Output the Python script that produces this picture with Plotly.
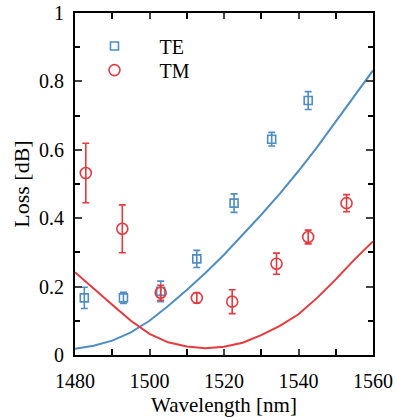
import plotly.graph_objects as go

# Measured data
wl_te = [1482.5, 1493.0, 1503.0, 1512.7, 1522.7, 1532.8, 1542.6]
loss_te = [0.167, 0.167, 0.186, 0.281, 0.444, 0.631, 0.744]
err_te = [0.031, 0.016, 0.030, 0.025, 0.027, 0.020, 0.026]

wl_tm = [1482.9, 1492.7, 1503.0, 1512.7, 1522.2, 1534.1, 1542.6, 1552.9]
loss_tm = [0.532, 0.369, 0.182, 0.167, 0.156, 0.267, 0.345, 0.444]
err_tm = [0.087, 0.070, 0.022, 0.015, 0.035, 0.031, 0.020, 0.025]

# Simulated curves
wl_fit = [1480, 1485, 1490, 1495, 1500, 1505, 1510, 1515, 1520, 1525, 1530,
          1535, 1540, 1545, 1550, 1555, 1560]
te_fit = [0.018, 0.027, 0.042, 0.066, 0.100, 0.143, 0.190, 0.240, 0.293,
          0.350, 0.410, 0.472, 0.538, 0.608, 0.682, 0.757, 0.832]
tm_fit = [0.242, 0.193, 0.147, 0.100, 0.062, 0.037, 0.025, 0.020, 0.024,
          0.036, 0.058, 0.085, 0.119, 0.167, 0.221, 0.279, 0.332]

x_tickvals = [1480, 1500, 1520, 1540, 1560]
y_tickvals = [0, 0.2, 0.4, 0.6, 0.8, 1]
y_ticktext = ["0", "0.2", "0.4", "0.6", "0.8", "1"]

blue = "#4f8dc3"
red = "#e8393e"
font = "Liberation Serif"
pad = "\u00a0" * 2

fig = go.Figure()
fig.add_trace(go.Scatter(x=wl_fit, y=te_fit, mode="lines", line=dict(color=blue, width=2),
                         showlegend=False, hoverinfo="skip"))
fig.add_trace(go.Scatter(x=wl_fit, y=tm_fit, mode="lines", line=dict(color=red, width=2),
                         showlegend=False, hoverinfo="skip"))
fig.add_trace(go.Scatter(x=wl_te, y=loss_te, mode="markers", name=pad + "TE", legend="legend",
                         marker=dict(symbol="square-open", size=8, color=blue, line=dict(width=1.6, color=blue)),
                         error_y=dict(type="data", array=err_te, color=blue, thickness=1.6, width=3.5)))
fig.add_trace(go.Scatter(x=wl_tm, y=loss_tm, mode="markers", name=pad + "TM", legend="legend2",
                         marker=dict(symbol="circle-open", size=11, color=red, line=dict(width=1.6, color=red)),
                         error_y=dict(type="data", array=err_tm, color=red, thickness=1.6, width=3.5)))

legend_common = dict(xanchor="left", yanchor="middle", bgcolor="rgba(0,0,0,0)",
                     font=dict(family=font, size=20), itemwidth=60)

fig.update_layout(
    width=397, height=417,
    margin=dict(l=75, r=24, t=13, b=62, autoexpand=False),
    paper_bgcolor="white", plot_bgcolor="white",
    font=dict(family=font, size=20, color="black"),
    legend=dict(x=0.015, y=0.9035, **legend_common),
    legend2=dict(x=0.015, y=0.833, **legend_common),
    xaxis=dict(range=[1480, 1560], tickvals=x_tickvals, ticks="inside", ticklen=6, tickwidth=1.5,
               showline=True, linewidth=2, linecolor="black", mirror="ticks", showgrid=False, zeroline=False,
               minor=dict(dtick=10, tick0=1480, ticks="inside", ticklen=6, tickwidth=1.5, tickcolor="black"),
               ticklabelstandoff=7, automargin=False,
               title=dict(text="Wavelength [nm]", font=dict(size=21)), tickfont=dict(size=20)),
    yaxis=dict(range=[0, 1], tickvals=y_tickvals, ticktext=y_ticktext, ticks="inside", ticklen=7, tickwidth=1.5,
               showline=True, linewidth=2, linecolor="black", mirror="ticks", showgrid=False, zeroline=False,
               minor=dict(dtick=0.1, tick0=0, ticks="inside", ticklen=5, tickwidth=1.5, tickcolor="black"),
               ticklabelstandoff=5, automargin=False,
               title=dict(text="Loss [dB]", font=dict(size=22), standoff=3), tickfont=dict(size=20)),
)
fig.write_html("out.html", config={"displayModeBar": False},
               post_script="document.body.style.margin='0';")
